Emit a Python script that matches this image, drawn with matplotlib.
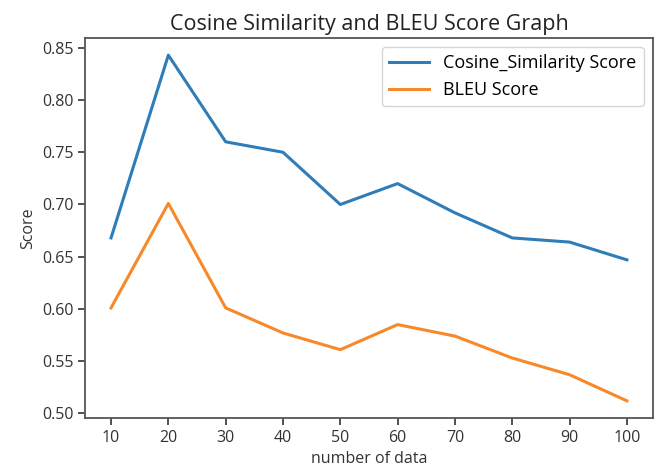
import matplotlib
matplotlib.use("Agg")
import matplotlib.pyplot as plt

plt.rcParams['font.family'] = ['Open Sans', 'DejaVu Sans']

# number of data used for each run
n_data = [10, 20, 30, 40, 50, 60, 70, 80, 90, 100]
# scores
cosine_scores = [0.668, 0.843, 0.760, 0.750, 0.700, 0.720, 0.692, 0.668, 0.664, 0.647]
bleu_scores = [0.601, 0.701, 0.601, 0.577, 0.561, 0.585, 0.574, 0.553, 0.537, 0.512]

fig = plt.figure(figsize=(6.66, 4.73), dpi=100)
ax = fig.add_axes([0.128, 0.116, 0.852, 0.804])

ax.plot(n_data, cosine_scores, color='#2f7db8', lw=2.2, label='Cosine_Similarity Score')
ax.plot(n_data, bleu_scores, color='#f7892a', lw=2.2, label='BLEU Score')

ax.set_xticks(n_data)
ax.set_yticks([0.50, 0.55, 0.60, 0.65, 0.70, 0.75, 0.80, 0.85])
ax.set_yticklabels(['0.50', '0.55', '0.60', '0.65', '0.70', '0.75', '0.80', '0.85'])
ax.tick_params(labelsize=11.5, colors='#333333', length=5, width=1.2)
for s in ax.spines.values():
    s.set_color('#555555')
    s.set_linewidth(1.3)

ax.set_title('Cosine Similarity and BLEU Score Graph', fontsize=15.5, color='#222222', pad=6)
ax.set_xlabel('number of data', fontsize=11.5, color='#333333')
ax.set_ylabel('Score', fontsize=11.5, color='#333333')
ax.legend(loc='upper right', fontsize=13, handlelength=2.2)

fig.savefig('out.png', dpi=100)
